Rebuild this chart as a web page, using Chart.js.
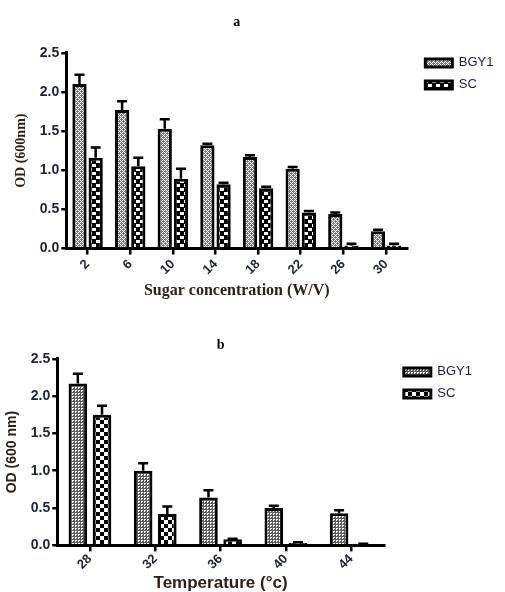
<!DOCTYPE html>
<html>
<head>
<title>OD vs sugar concentration and temperature</title>
<script src="https://cdn.jsdelivr.net/npm/chart.js"></script>
<style>
  body { margin: 0; background: #fff; width: 505px; height: 592px; overflow: hidden; position: relative; }
  canvas { position: absolute; left: 0; }
  #chartA { top: 0; }
  #chartB { top: 312px; }
</style>
</head>
<body>
<canvas id="chartA" width="505" height="310"></canvas>
<canvas id="chartB" width="505" height="280"></canvas>
<script>
  // panel a: sugar concentration
  const sugarLabels = ['2', '6', '10', '14', '18', '22', '26', '30'];
  const sugarBGY1 = [2.10, 1.77, 1.53, 1.32, 1.17, 1.02, 0.44, 0.22];
  const sugarBGY1Err = [0.12, 0.11, 0.12, 0.02, 0.02, 0.02, 0.02, 0.02];
  const sugarSC = [1.16, 1.05, 0.89, 0.82, 0.77, 0.46, 0.04, 0.04];
  const sugarSCErr = [0.13, 0.11, 0.13, 0.02, 0.02, 0.02, 0.02, 0.02];

  // panel b: temperature
  const tempLabels = ['28', '32', '36', '40', '44'];
  const tempBGY1 = [2.17, 1.00, 0.64, 0.50, 0.43];
  const tempBGY1Err = [0.13, 0.10, 0.10, 0.03, 0.04];
  const tempSC = [1.75, 0.42, 0.08, 0.03, 0.01];
  const tempSCErr = [0.12, 0.10, 0.01, 0.01, 0.01];

  const tickColor = '#1d2238';
  const titleColor = '#2e2218';

  // small tiles used as bar fills
  function makePattern(size, bg, fg, cells) {
    const c = document.createElement('canvas');
    c.width = size; c.height = size;
    const g = c.getContext('2d');
    g.fillStyle = bg;
    g.fillRect(0, 0, size, size);
    g.fillStyle = fg;
    cells.forEach(r => g.fillRect(r[0], r[1], r[2], r[3]));
    return g.createPattern(c, 'repeat');
  }
  const ctxA = document.getElementById('chartA').getContext('2d');
  const ctxB = document.getElementById('chartB').getContext('2d');

  const fillA1 = makePattern(4, '#7a7a7a', '#ffffff', [[0,0,1,1],[2,0,1,1],[1,1,1,1],[0,2,1,1],[2,2,1,1],[3,3,1,1]]);
  const fillA2 = makePattern(8, '#000000', '#ffffff', [[0,0,4,3],[4,4,4,3]]);
  const fillB1 = makePattern(3, '#5c5c5c', '#ffffff', [[0,0,2,1],[0,1,1,1]]);
  const fillB2 = makePattern(8, '#ffffff', '#000000', [[0,0,4,4],[4,4,4,4]]);

  // error bars (upper half only), placed with the chart's own scales
  const errorBars = {
    id: 'errorBars',
    afterDatasetsDraw(chart) {
      const c = chart.ctx;
      const y = chart.scales.y;
      c.save();
      c.strokeStyle = '#000';
      c.lineWidth = 2.5;
      chart.data.datasets.forEach((ds, i) => {
        chart.getDatasetMeta(i).data.forEach((bar, j) => {
          const top = y.getPixelForValue(ds.data[j] + ds.errors[j]);
          c.beginPath();
          c.moveTo(bar.x, bar.y);
          c.lineTo(bar.x, top);
          c.moveTo(bar.x - 5, top);
          c.lineTo(bar.x + 5, top);
          c.stroke();
        });
      });
      c.restore();
    }
  };

  function makeOptions(o) {
    return {
      responsive: false,
      animation: false,
      layout: { padding: o.padding },
      plugins: {
        title: {
          display: true,
          text: o.panel,
          fullSize: false,
          color: '#000',
          font: { family: 'Liberation Serif', size: 14, weight: 'bold' },
          padding: o.titlePad
        },
        legend: {
          position: 'right',
          align: 'start',
          title: { display: true, text: ' ', font: { size: 12 }, padding: { top: o.legendTop, bottom: 0 } },
          labels: {
            boxWidth: 27,
            boxHeight: 8,
            padding: 9,
            color: '#1c1c48',
            font: { family: 'Liberation Sans', size: 13 }
          }
        },
        tooltip: { enabled: false }
      },
      scales: {
        x: {
          offset: true,
          grid: { offset: false, drawOnChartArea: false, color: '#000', lineWidth: 2.5, tickLength: 6 },
          border: { color: '#000', width: 3 },
          ticks: {
            color: tickColor,
            minRotation: 45,
            maxRotation: 45,
            padding: o.xTickPad,
            font: { family: 'Liberation Sans', size: 13, weight: 'bold' }
          },
          title: {
            display: true,
            text: o.xTitle,
            color: titleColor,
            padding: o.xTitlePad,
            font: o.xTitleFont
          }
        },
        y: {
          min: 0,
          max: 2.5,
          grid: { drawOnChartArea: false, color: '#000', lineWidth: 2.5, tickLength: 5 },
          border: { color: '#000', width: 3 },
          ticks: {
            stepSize: 0.5,
            color: tickColor,
            padding: 2,
            font: { family: 'Liberation Sans', size: 14, weight: 'bold' },
            callback: v => v.toFixed(1)
          },
          title: {
            display: true,
            text: o.yTitle,
            color: titleColor,
            padding: { top: 0, bottom: 8 },
            font: o.yTitleFont
          }
        },
        // empty strip between the plot and the legend
        gap: {
          type: 'linear',
          position: 'right',
          grid: { display: false },
          ticks: { display: false },
          border: { display: false },
          afterFit: s => { s.width = o.gap; }
        }
      }
    };
  }

  new Chart(ctxA, {
    type: 'bar',
    data: {
      labels: sugarLabels,
      datasets: [
        { label: 'BGY1', data: sugarBGY1, errors: sugarBGY1Err, backgroundColor: fillA1, borderColor: '#000', borderWidth: 3, categoryPercentage: 0.76, barPercentage: 0.88 },
        { label: 'SC', data: sugarSC, errors: sugarSCErr, backgroundColor: fillA2, borderColor: '#000', borderWidth: 3, categoryPercentage: 0.76, barPercentage: 0.88 }
      ]
    },
    options: makeOptions({
      panel: 'a',
      titlePad: { top: 14, bottom: 22 },
      padding: { left: 13, right: 8, top: 0, bottom: 10 },
      gap: 9,
      legendTop: 33,
      xTickPad: 2,
      xTitlePad: { top: 1, bottom: 0 },
      xTitle: 'Sugar concentration (W/V)',
      yTitle: 'OD (600nm)',
      xTitleFont: { family: 'Liberation Serif', size: 16, weight: 'bold' },
      yTitleFont: { family: 'Liberation Serif', size: 14, weight: 'bold' }
    }),
    plugins: [errorBars]
  });

  new Chart(ctxB, {
    type: 'bar',
    data: {
      labels: tempLabels,
      datasets: [
        { label: 'BGY1', data: tempBGY1, errors: tempBGY1Err, backgroundColor: fillB1, borderColor: '#000', borderWidth: 3, categoryPercentage: 0.74, barPercentage: 0.77 },
        { label: 'SC', data: tempSC, errors: tempSCErr, backgroundColor: fillB2, borderColor: '#000', borderWidth: 3, categoryPercentage: 0.74, barPercentage: 0.77 }
      ]
    },
    options: makeOptions({
      panel: 'b',
      titlePad: { top: 25, bottom: 5 },
      padding: { left: 4, right: 32, top: 0, bottom: 0 },
      gap: 11,
      legendTop: 30,
      xTickPad: 0,
      xTitlePad: { top: 1, bottom: -2 },
      xTitle: 'Temperature (°c)',
      yTitle: 'OD (600 nm)',
      xTitleFont: { family: 'Liberation Sans', size: 17, weight: 'bold' },
      yTitleFont: { family: 'Liberation Sans', size: 14, weight: 'bold' }
    }),
    plugins: [errorBars]
  });
</script>
</body>
</html>
